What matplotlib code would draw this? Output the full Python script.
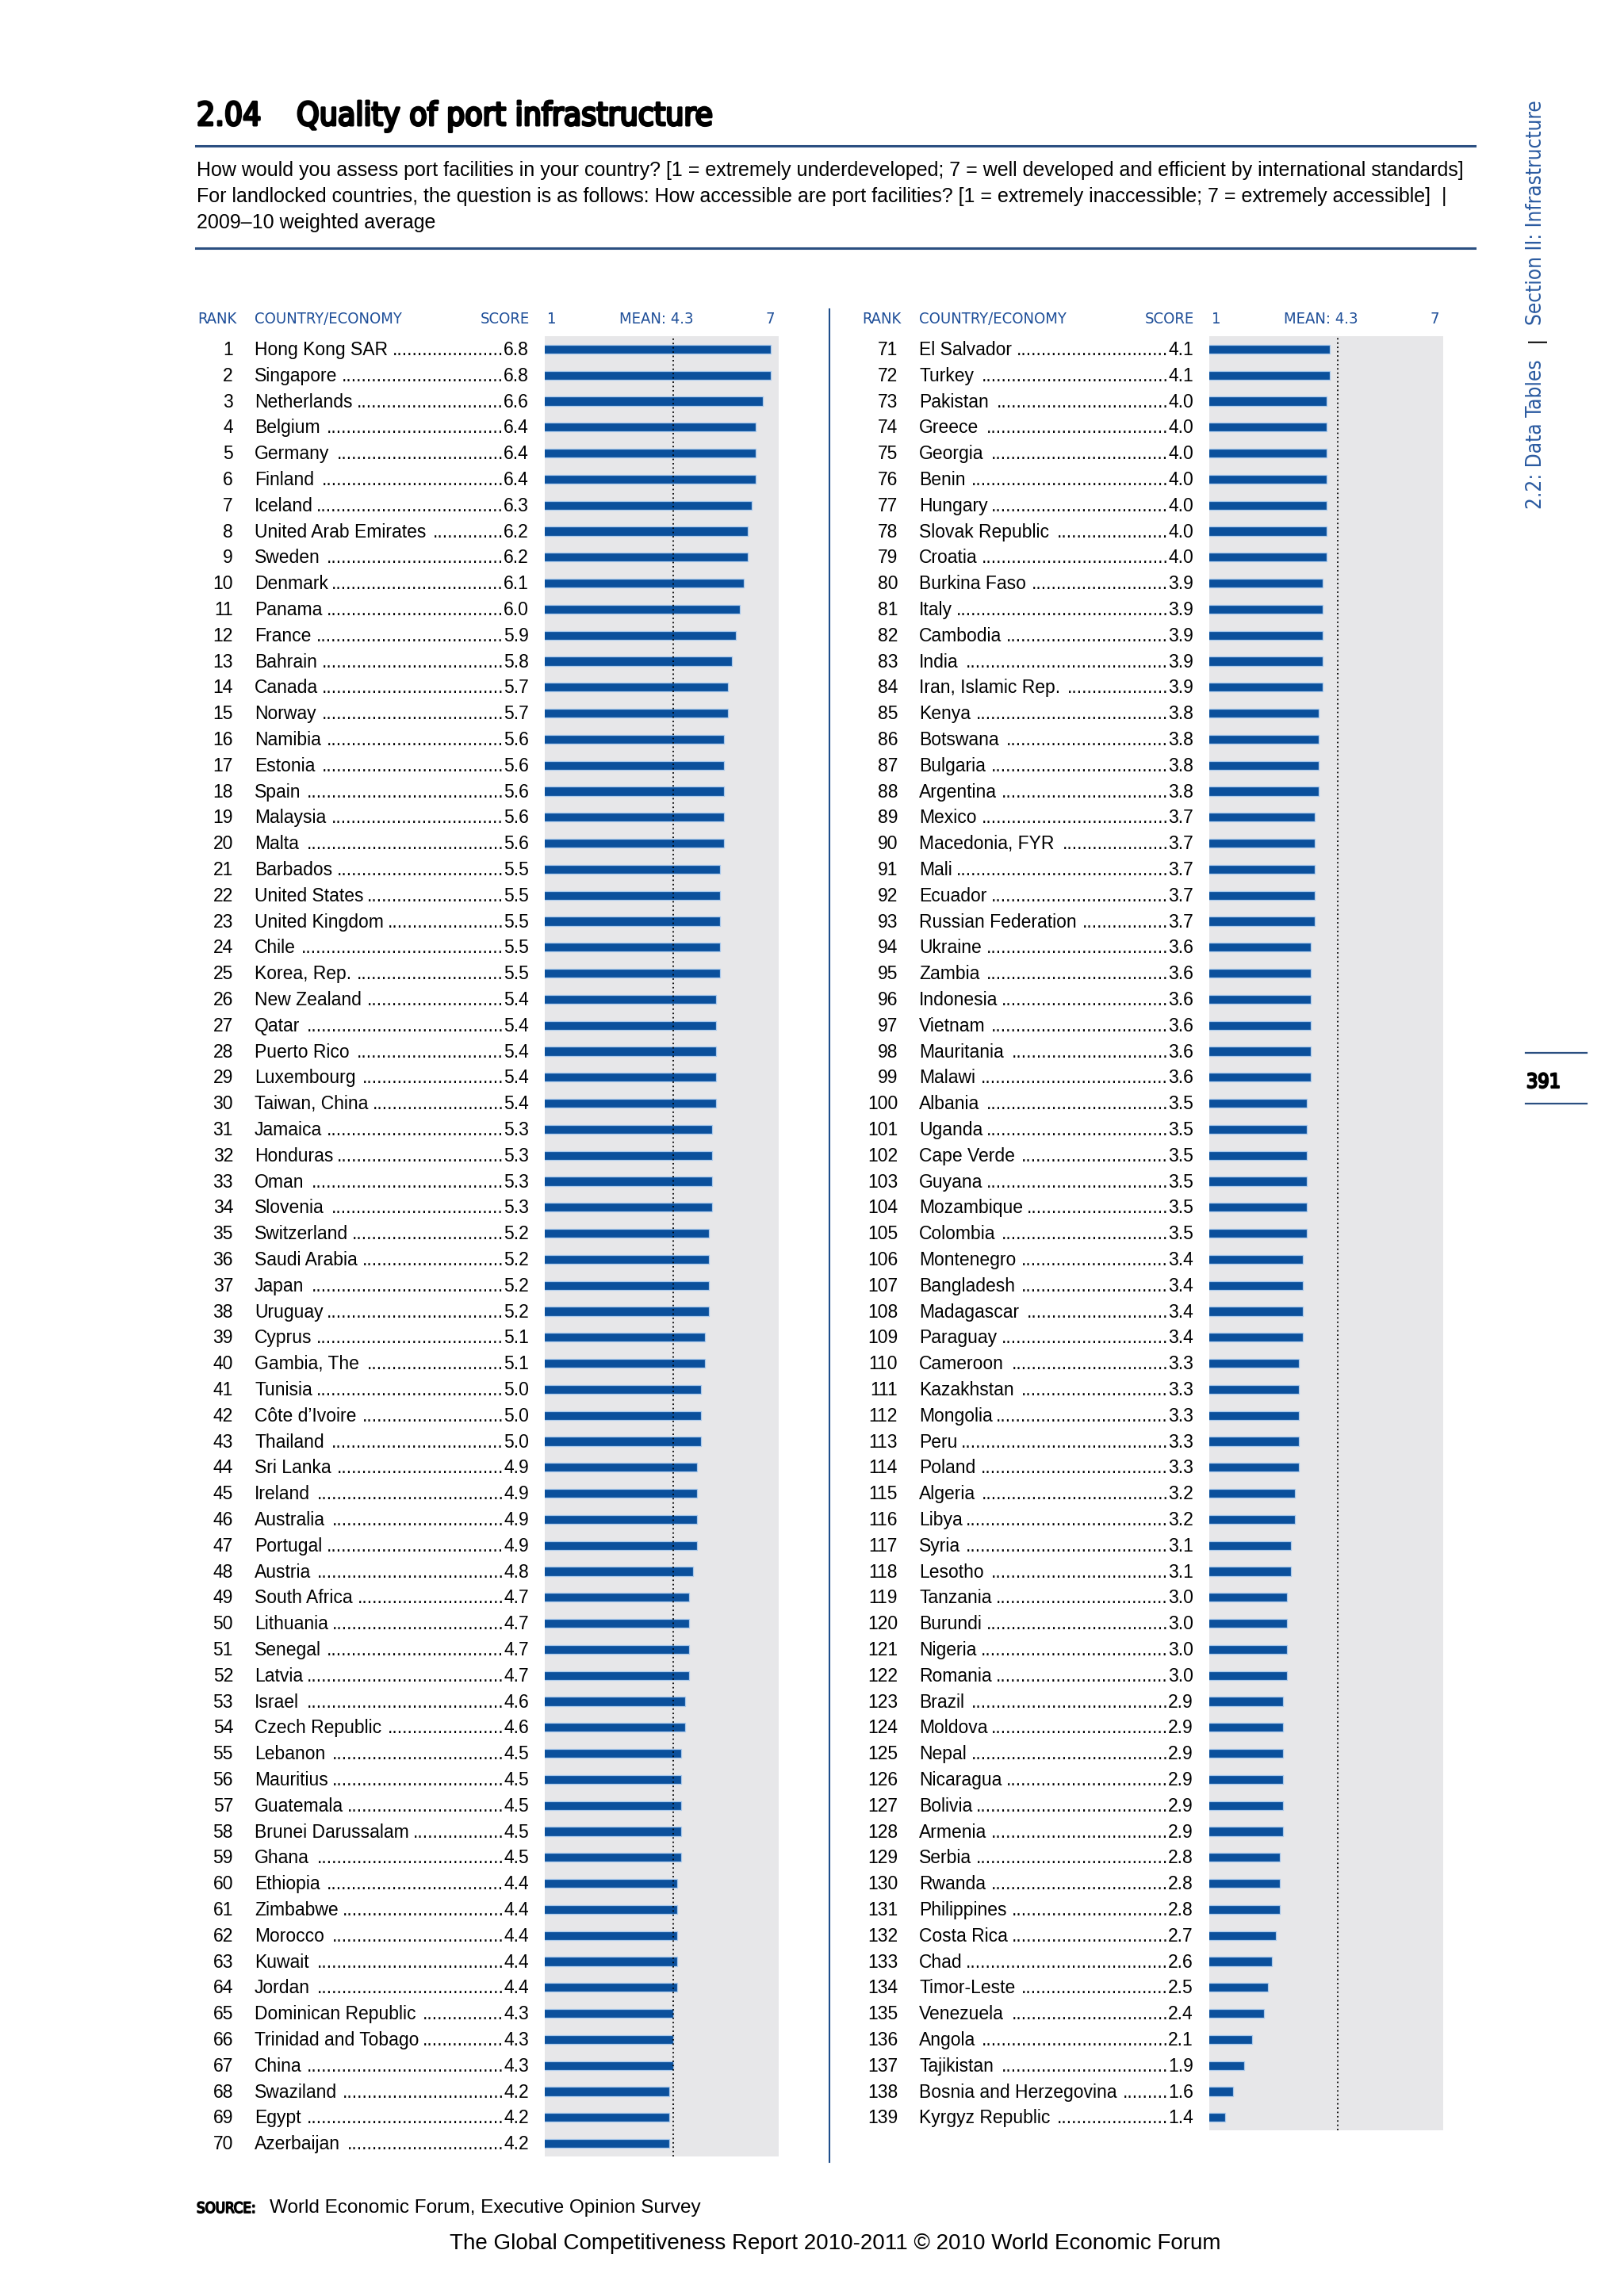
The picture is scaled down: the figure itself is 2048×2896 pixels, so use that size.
import matplotlib
matplotlib.use("Agg")
import matplotlib.pyplot as plt
import matplotlib.patheffects as pe
from matplotlib import font_manager as fm
from matplotlib.transforms import blended_transform_factory

# ---- data -------------------------------------------------------------
ranks_left = list(range(1, 71))
countries_left = [
    "Hong Kong SAR", "Singapore", "Netherlands", "Belgium", "Germany",
    "Finland", "Iceland", "United Arab Emirates", "Sweden", "Denmark",
    "Panama", "France", "Bahrain", "Canada", "Norway",
    "Namibia", "Estonia", "Spain", "Malaysia", "Malta",
    "Barbados", "United States", "United Kingdom", "Chile", "Korea, Rep.",
    "New Zealand", "Qatar", "Puerto Rico", "Luxembourg", "Taiwan, China",
    "Jamaica", "Honduras", "Oman", "Slovenia", "Switzerland",
    "Saudi Arabia", "Japan", "Uruguay", "Cyprus", "Gambia, The",
    "Tunisia", "Côte d\u2019Ivoire", "Thailand", "Sri Lanka", "Ireland",
    "Australia", "Portugal", "Austria", "South Africa", "Lithuania",
    "Senegal", "Latvia", "Israel", "Czech Republic", "Lebanon",
    "Mauritius", "Guatemala", "Brunei Darussalam", "Ghana", "Ethiopia",
    "Zimbabwe", "Morocco", "Kuwait", "Jordan", "Dominican Republic",
    "Trinidad and Tobago", "China", "Swaziland", "Egypt", "Azerbaijan",
]
scores_left = [
    6.8, 6.8, 6.6, 6.4, 6.4, 6.4, 6.3, 6.2, 6.2, 6.1,
    6.0, 5.9, 5.8, 5.7, 5.7, 5.6, 5.6, 5.6, 5.6, 5.6,
    5.5, 5.5, 5.5, 5.5, 5.5, 5.4, 5.4, 5.4, 5.4, 5.4,
    5.3, 5.3, 5.3, 5.3, 5.2, 5.2, 5.2, 5.2, 5.1, 5.1,
    5.0, 5.0, 5.0, 4.9, 4.9, 4.9, 4.9, 4.8, 4.7, 4.7,
    4.7, 4.7, 4.6, 4.6, 4.5, 4.5, 4.5, 4.5, 4.5, 4.4,
    4.4, 4.4, 4.4, 4.4, 4.3, 4.3, 4.3, 4.2, 4.2, 4.2,
]

ranks_right = list(range(71, 140))
countries_right = [
    "El Salvador", "Turkey", "Pakistan", "Greece", "Georgia",
    "Benin", "Hungary", "Slovak Republic", "Croatia", "Burkina Faso",
    "Italy", "Cambodia", "India", "Iran, Islamic Rep.", "Kenya",
    "Botswana", "Bulgaria", "Argentina", "Mexico", "Macedonia, FYR",
    "Mali", "Ecuador", "Russian Federation", "Ukraine", "Zambia",
    "Indonesia", "Vietnam", "Mauritania", "Malawi", "Albania",
    "Uganda", "Cape Verde", "Guyana", "Mozambique", "Colombia",
    "Montenegro", "Bangladesh", "Madagascar", "Paraguay", "Cameroon",
    "Kazakhstan", "Mongolia", "Peru", "Poland", "Algeria",
    "Libya", "Syria", "Lesotho", "Tanzania", "Burundi",
    "Nigeria", "Romania", "Brazil", "Moldova", "Nepal",
    "Nicaragua", "Bolivia", "Armenia", "Serbia", "Rwanda",
    "Philippines", "Costa Rica", "Chad", "Timor-Leste", "Venezuela",
    "Angola", "Tajikistan", "Bosnia and Herzegovina", "Kyrgyz Republic",
]
scores_right = [
    4.1, 4.1, 4.0, 4.0, 4.0, 4.0, 4.0, 4.0, 4.0, 3.9,
    3.9, 3.9, 3.9, 3.9, 3.8, 3.8, 3.8, 3.8, 3.7, 3.7,
    3.7, 3.7, 3.7, 3.6, 3.6, 3.6, 3.6, 3.6, 3.6, 3.5,
    3.5, 3.5, 3.5, 3.5, 3.5, 3.4, 3.4, 3.4, 3.4, 3.3,
    3.3, 3.3, 3.3, 3.3, 3.2, 3.2, 3.1, 3.1, 3.0, 3.0,
    3.0, 3.0, 2.9, 2.9, 2.9, 2.9, 2.9, 2.9, 2.8, 2.8,
    2.8, 2.7, 2.6, 2.5, 2.4, 2.1, 1.9, 1.6, 1.4,
]

mean_score = 4.3
scale_min, scale_max = 1, 7

# ---- style ------------------------------------------------------------
W, H, DPI = 2048, 2896, 100
BAR = "#0b509c"
BAR_EDGE = "#a9c9ec"
BG = "#e7e7e9"
HEAD = "#1f4f99"
SIDE = "#2a5aa0"
RULE = "#2b4f81"
REG = ["Liberation Sans", "DejaVu Sans"]
ROW_PX = 32.8
TOP_PX = 424


def fx(px):
    return px / W


def fy(py):
    return 1 - py / H


def condensed():
    # look for an installed narrow/condensed regular face, else plain Liberation Sans
    hits = []
    for f in fm.fontManager.ttflist:
        tag = f.name + " " + f.fname
        if "Narrow" in tag or "Condensed" in tag or f.stretch in ("condensed", "semi-condensed"):
            if "Bold" not in f.fname and "Light" not in f.fname and f.style == "normal":
                hits.append(f)
    if hits:
        hits.sort(key=lambda f: ("Liberation" not in f.name, "DejaVu" not in f.name))
        return fm.FontProperties(fname=hits[0].fname)
    return fm.FontProperties(family="Liberation Sans")


COND = condensed()


def heavy(lw):
    # a thin outline in the text colour thickens the condensed face
    return [pe.withStroke(linewidth=lw, foreground="black")]


fig = plt.figure(figsize=(W / DPI, H / DPI), dpi=DPI)
renderer = fig.canvas.get_renderer()


def text_width(s, size, **kw):
    t = fig.text(0, 0, s, fontsize=size, **kw)
    w = t.get_window_extent(renderer).width
    t.remove()
    return w


def fit_size(s, size, target, cap, **kw):
    return min(cap, size * target / text_width(s, size, **kw))


# title block
title_size = fit_size("Quality of port infrastructure", 35, 525, 36, fontproperties=COND)
for xx, s in ((248, "2.04"), (374, "Quality of port infrastructure")):
    fig.text(fx(xx), fy(158), s, fontproperties=COND, fontsize=title_size, va="baseline",
             path_effects=heavy(2.2))
fig.add_artist(plt.Line2D([fx(247), fx(1860)], [fy(184), fy(184)], color=RULE, lw=2.2))
subtitle = [
    "How would you assess port facilities in your country? [1 = extremely underdeveloped; "
    "7 = well developed and efficient by international standards]",
    "For landlocked countries, the question is as follows: How accessible are port facilities? "
    "[1 = extremely inaccessible; 7 = extremely accessible]  |",
    "2009\u201310 weighted average",
]
sub_size = fit_size(subtitle[0], 16, 1604, 19, family=REG)
for i, line in enumerate(subtitle):
    fig.text(fx(248), fy(222 + 33 * i), line, family=REG, fontsize=sub_size, va="baseline")
fig.add_artist(plt.Line2D([fx(247), fx(1860)], [fy(313), fy(313)], color=RULE, lw=2.2))

# side text and page number
side_size = fit_size("Section II: Infrastructure", 22, 286, 23, fontproperties=COND)
fig.text(fx(1937), fy(410), "Section II: Infrastructure", fontproperties=COND,
         fontsize=side_size, color=SIDE, rotation=90, ha="center", va="bottom")
fig.text(fx(1938), fy(429), "|", family=REG, fontsize=18, color="black",
         rotation=90, ha="center", va="center")
fig.text(fx(1937), fy(642), "2.2: Data Tables", fontproperties=COND,
         fontsize=side_size, color=SIDE, rotation=90, ha="center", va="bottom")
for yy in (1328, 1392):
    fig.add_artist(plt.Line2D([fx(1924), fx(2001)], [fy(yy), fy(yy)], color=RULE, lw=1.6))
page_size = fit_size("391", 23, 43, 24, fontproperties=COND)
fig.text(fx(1925), fy(1372), "391", fontproperties=COND, fontsize=page_size, va="baseline",
         path_effects=heavy(1.6))

head_size = fit_size("COUNTRY/ECONOMY", 13, 186, 14.5, fontproperties=COND)

dot_probe = fig.text(0, 0, "." * 100, family=REG, fontsize=16.5)
dot_w = dot_probe.get_window_extent(renderer).width / 100
dot_probe.remove()


def draw_panel(x_off, ranks, countries, scores):
    bottom = TOP_PX + ROW_PX * len(ranks)
    ax = fig.add_axes([fx(687 + x_off), fy(bottom), 295 / W, (bottom - TOP_PX) / H])
    ax.set_facecolor(BG)
    ax.barh(ranks, scores, height=0.34, color=BAR, edgecolor=BAR_EDGE, linewidth=0.9)
    ax.axvline(mean_score, color="black", linestyle=(0, (1, 2)), lw=1.3)
    ax.set_xlim(scale_min, scale_max)
    ax.set_ylim(ranks[-1] + 0.5, ranks[0] - 0.5)
    ax.set_xticks([])
    ax.set_yticks([])
    for sp in ax.spines.values():
        sp.set_visible(False)

    # column headers
    hy = fy(408)
    hk = dict(fontproperties=COND, fontsize=head_size, color=HEAD, va="baseline")
    fig.text(fx(249 + x_off), hy, "RANK", **hk)
    fig.text(fx(321 + x_off), hy, "COUNTRY/ECONOMY", **hk)
    fig.text(fx(668 + x_off), hy, "SCORE", ha="right", **hk)
    htr = blended_transform_factory(ax.transData, fig.transFigure)
    fig.text(scale_min + 0.06, hy, str(scale_min), transform=htr, ha="left", **hk)
    fig.text(3.86, hy, "MEAN: %.1f" % mean_score, transform=htr, ha="center", **hk)
    fig.text(6.78, hy, str(scale_max), transform=htr, ha="center", **hk)

    # rows
    tr = blended_transform_factory(fig.transFigure, ax.transData)
    for r, c, s in zip(ranks, countries, scores):
        y = r + 0.23
        fig.text(fx(294 + x_off), y, str(r), transform=tr, family=REG, fontsize=16.5,
                 ha="right", va="baseline")
        nt = fig.text(fx(321 + x_off), y, c, transform=tr, family=REG, fontsize=16.5,
                      va="baseline")
        st = fig.text(fx(667 + x_off), y, "%.1f" % s, transform=tr, family=REG,
                      fontsize=16.5, ha="right", va="baseline")
        x1 = nt.get_window_extent(renderer).x1
        x0 = st.get_window_extent(renderer).x0
        n = int((x0 - x1 - 4) / dot_w)
        if n > 0:
            fig.text(x0 / W, y, "." * n, transform=tr, family=REG, fontsize=16.5,
                     ha="right", va="baseline")


draw_panel(0, ranks_left, countries_left, scores_left)
draw_panel(838, ranks_right, countries_right, scores_right)

# separator between the two columns
fig.add_artist(plt.Line2D([fx(1046), fx(1046)], [fy(390), fy(2727)], color="#1f4e8c", lw=1.5))

# source and footer
src_size = fit_size("SOURCE:", 13, 74, 14, fontproperties=COND)
fig.text(fx(248), fy(2791), "SOURCE:", fontproperties=COND, fontsize=src_size,
         va="baseline", path_effects=heavy(1.2))
fig.text(fx(340), fy(2791), "World Economic Forum, Executive Opinion Survey", family=REG,
         fontsize=17.5, va="baseline")
fig.text(fx(1053), fy(2837), "The Global Competitiveness Report 2010-2011 \u00a9 2010 World Economic Forum",
         family=REG, fontsize=20, ha="center", va="baseline")

fig.savefig("out.png", dpi=DPI, facecolor="white")
